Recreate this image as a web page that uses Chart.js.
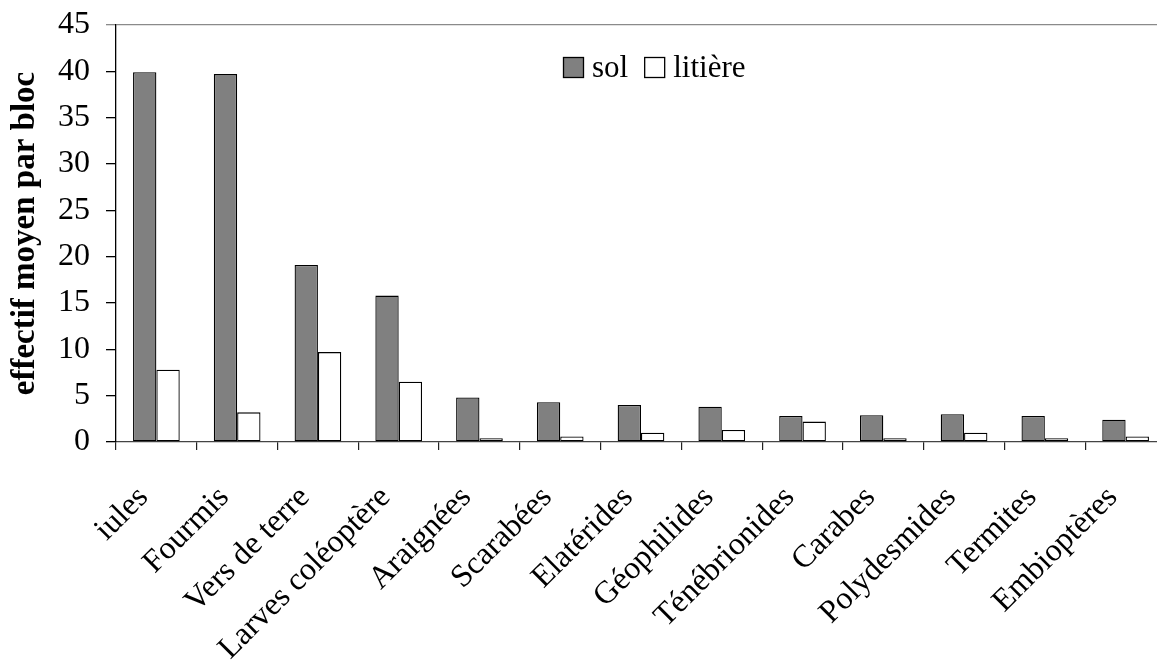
<!DOCTYPE html>
<html>
<head>
<meta charset="utf-8">
<script src="https://cdn.jsdelivr.net/npm/chart.js@4.4.1/dist/chart.umd.min.js"></script>
<style>
  html, body { margin: 0; padding: 0; background: #fff; overflow: hidden; }
  #wrap { width: 1157px; height: 662px; overflow: hidden; position: relative; }
  canvas { display: block; }
</style>
</head>
<body>
<div id="wrap"><canvas id="chart" width="1180" height="662"></canvas></div>
<script>
// Groupes de macrofaune : effectif moyen par bloc dans le sol et dans la litière
const categories = ["iules", "Fourmis", "Vers de terre", "Larves coléoptère", "Araignées", "Scarabées",
  "Elatérides", "Géophilides", "Ténébrionides", "Carabes", "Polydesmides", "Termites", "Embioptères"];
const solValues     = [39.9, 39.7, 19.1, 15.8, 4.8, 4.3, 4.0, 3.8, 2.8, 2.9, 3.0, 2.8, 2.4];
const litiereValues = [7.8, 3.2, 9.7, 6.5, 0.4, 0.6, 1.0, 1.3, 2.2, 0.4, 1.0, 0.4, 0.6];
const yTicks = [0, 5, 10, 15, 20, 25, 30, 35, 40, 45];

const serif = "'Liberation Serif', 'Times New Roman', serif";

// Légende dessinée à l'intérieur de la zone du graphique
const innerLegend = {
  id: 'innerLegend',
  afterDraw(chart) {
    const ctx = chart.ctx;
    const box = 21;
    let x = 563;
    const top = 57;
    ctx.save();
    ctx.font = "31px " + serif;
    ctx.textBaseline = 'alphabetic';
    chart.data.datasets.forEach((ds) => {
      ctx.fillStyle = ds.backgroundColor;
      ctx.fillRect(x, top, box, box);
      ctx.lineWidth = 1.3;
      ctx.strokeStyle = '#000';
      ctx.strokeRect(x + 0.5, top + 0.5, box - 1, box - 1);
      x += box + 8;
      ctx.fillStyle = '#000';
      ctx.fillText(ds.label, x, top + box - 1);
      x += ctx.measureText(ds.label).width + 16;
    });
    ctx.restore();
  }
};

new Chart(document.getElementById('chart'), {
  type: 'bar',
  data: {
    labels: categories,
    datasets: [
      { label: 'sol', data: solValues, backgroundColor: '#808080', borderColor: '#000', borderWidth: 1.3,
        borderSkipped: false, categoryPercentage: 0.578, barPercentage: 1.0 },
      { label: 'litière', data: litiereValues, backgroundColor: '#ffffff', borderColor: '#000', borderWidth: 1.3,
        borderSkipped: false, categoryPercentage: 0.578, barPercentage: 1.0 }
    ]
  },
  options: {
    responsive: false,
    animation: false,
    layout: { padding: { left: 0, right: 14, top: 25, bottom: 0 } },
    plugins: {
      legend: { display: false },
      tooltip: { enabled: false }
    },
    scales: {
      x: {
        offset: true,
        border: { display: true, color: '#444', width: 1.3 },
        grid: { display: true, drawOnChartArea: false, offset: true, tickLength: 8, tickColor: '#222', lineWidth: 1.2 },
        ticks: {
          autoSkip: false, maxRotation: 45, minRotation: 45, padding: 29, labelOffset: -13,
          color: '#000', font: { family: serif, size: 32 }
        },
        afterFit(scale) { scale.height = 662 - 442; scale.paddingLeft = 0; scale.paddingRight = 0; }
      },
      y: {
        min: 0, max: 45,
        afterBuildTicks(scale) { scale.ticks = yTicks.map(v => ({ value: v })); },
        border: { display: true, color: '#000', width: 1.3 },
        grid: {
          drawOnChartArea: true, tickLength: 10, lineWidth: 1.3,
          color: (c) => (c.tick && c.tick.value === 45 ? '#8a8a8a' : 'rgba(0,0,0,0)'),
          tickColor: (c) => (c.tick && c.tick.value === 45 ? '#8a8a8a' : '#000')
        },
        ticks: { padding: 16, color: '#000', font: { family: serif, size: 32 } },
        title: {
          display: true, text: 'effectif moyen par bloc', color: '#000',
          font: { family: serif, size: 33, weight: 'bold' }, padding: { top: 6, bottom: 0 }
        },
        afterFit(scale) { scale.width = 116; scale.paddingTop = 0; scale.paddingBottom = 0; }
      }
    }
  },
  plugins: [innerLegend]
});
</script>
</body>
</html>
